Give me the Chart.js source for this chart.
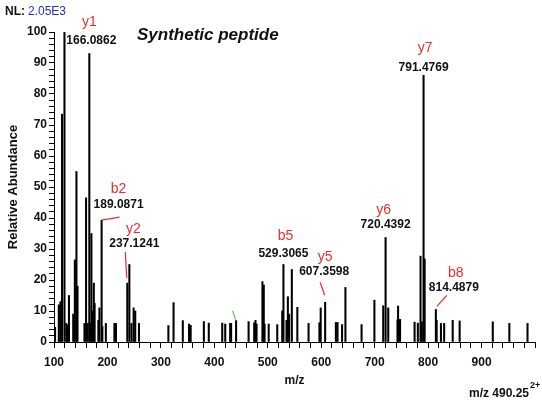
<!DOCTYPE html>
<html>
<head>
<meta charset="utf-8">
<script src="https://cdn.jsdelivr.net/npm/chart.js@4.4.1/dist/chart.umd.min.js"></script>
<style>
  html, body { margin: 0; padding: 0; background: #fff; }
  #wrap { width: 542px; height: 404px; position: relative; }
</style>
</head>
<body>
<div id="wrap"><canvas id="msChart"></canvas></div>
<script>
// centroided MS/MS peaks: m/z and relative abundance (%)
const peakMz = [
    102, 109, 112, 115, 119.6, 123, 125, 128, 136, 139,
    142, 144, 157, 160, 163, 166.0862, 168, 170, 173, 174.5,
    176, 183, 185, 189.0871, 190.5, 197, 213, 216, 237.1241, 241,
    245, 249, 252, 259, 314, 323.7, 341, 352.6, 355.7, 380.4,
    389.6, 414.8, 420.4, 429.6, 431.4, 440.7, 464.1, 474.6, 477, 479,
    490, 492.5, 494, 501.7, 517.7, 527, 529.3065, 535, 537.6, 540,
    545, 555.3, 576.3, 596.6, 599, 607.3598, 627.4, 630.5, 639, 645.3,
    675.5, 699.5, 716, 720.4392, 725.4, 742.7, 743.8, 747.5, 774.7, 780.8,
    785.8, 788.3, 791.4769, 793.5, 814.4879, 816, 824, 830, 846, 859,
    921, 952, 986
];
const peakAbundance = [
    4.8, 12, 13, 73.5, 100, 6, 5.5, 15, 9, 26.5,
    55, 18, 6, 46.5, 6, 93, 6, 35, 10, 19,
    12.5, 7, 11, 39.3, 5, 6, 6, 6, 19, 25,
    6, 11, 10, 6, 5.3, 12.7, 6.9, 5.8, 5.4, 6.6,
    6.1, 6.1, 5.8, 6, 6, 6.9, 6.6, 6.2, 7, 5.8,
    19.5, 18.4, 5.8, 5.8, 5.6, 10, 25, 7, 14.6, 9,
    23.4, 11.2, 6, 6.2, 11, 12.8, 6.3, 6.3, 5.6, 17.6,
    5.6, 13.5, 11.7, 33.7, 11, 7.1, 11.6, 7.3, 6.4, 6.1,
    27.7, 6.5, 86, 26.8, 10.5, 7, 6, 6, 7, 6.8,
    6.5, 6, 6
];

// assigned fragment ions
const ionNames = ['y1', 'b2', 'y2', 'b5', 'y5', 'y6', 'y7', 'b8'];
const ionMz = [166.0862, 189.0871, 237.1241, 529.3065, 607.3598, 720.4392, 791.4769, 814.4879];

const xTickValues = [100, 200, 300, 400, 500, 600, 700, 800, 900];
const yTickValues = [0, 10, 20, 30, 40, 50, 60, 70, 80, 90, 100];

const normLevel = '2.05E3';
const precursorMz = '490.25';
const precursorCharge = '2+';
const sampleTitle = 'Synthetic peptide';

const RED = '#ee2b2b';

// where each ion label sits, relative to the top of its peak (px)
const labelPlacement = {
    y1: { dx: 2, dy: -13, nameDx: 0, nameDy: -32 },
    b2: { dx: 17, dy: -15, nameDx: 17, nameDy: -31, lead: [0, 0, 18, -3] },
    y2: { dx: 7, dy: -39, nameDx: 6, nameDy: -54, lead: [-2, -31, -0.5, -5] },
    b5: { dx: 0, dy: -11, nameDx: 2, nameDy: -28 },
    y5: { dx: -1, dy: -31, nameDx: 0, nameDy: -45, lead: [-5, -20, -0.5, -7] },
    y6: { dx: 0, dy: -13, nameDx: -2, nameDy: -27 },
    y7: { dx: 0, dy: -8, nameDx: 1.5, nameDy: -27 },
    b8: { dx: 18, dy: -22, nameDx: 20, nameDy: -36, lead: [1, -3, 11, -14] }
};

const peakPoints = peakMz.map((mz, i) => ({ x: mz, y: peakAbundance[i] }));

const annotate = {
    id: 'annotate',
    afterDatasetsDraw(chart) {
        const { ctx, scales: { x, y } } = chart;
        ctx.save();
        ctx.textAlign = 'center';
        ctx.textBaseline = 'middle';
        ionNames.forEach((name, i) => {
            const mz = ionMz[i];
            const idx = peakMz.indexOf(mz);
            const px = x.getPixelForValue(mz);
            const py = y.getPixelForValue(peakAbundance[idx]);
            const p = labelPlacement[name];
            if (p.lead) {
                ctx.strokeStyle = RED;
                ctx.lineWidth = 1.2;
                ctx.beginPath();
                ctx.moveTo(px + p.lead[0], py + p.lead[1]);
                ctx.lineTo(px + p.lead[2], py + p.lead[3]);
                ctx.stroke();
            }
            ctx.fillStyle = '#111';
            ctx.font = 'bold 12px "Liberation Sans", Arial, sans-serif';
            ctx.fillText(mz.toFixed(4), px + p.dx, py + p.dy);
            ctx.fillStyle = RED;
            ctx.font = '14px "Liberation Sans", Arial, sans-serif';
            ctx.fillText(name, px + p.nameDx, py + p.nameDy);
        });

        // small green tick on the 440.7 peak
        const gx = x.getPixelForValue(440.7);
        const gy = y.getPixelForValue(peakAbundance[peakMz.indexOf(440.7)]);
        ctx.strokeStyle = '#3cb43c';
        ctx.lineWidth = 1;
        ctx.beginPath();
        ctx.moveTo(gx - 3.5, gy - 10);
        ctx.lineTo(gx - 0.5, gy - 1);
        ctx.stroke();

        // header and footer text
        ctx.textAlign = 'left';
        ctx.fillStyle = '#111';
        ctx.font = 'bold 12px "Liberation Sans", Arial, sans-serif';
        ctx.fillText('NL:', 5, 12);
        ctx.fillStyle = '#2b2bc8';
        ctx.font = '12px "Liberation Sans", Arial, sans-serif';
        ctx.fillText(normLevel, 28, 12);

        ctx.fillStyle = '#111';
        ctx.font = 'italic bold 17px "Liberation Sans", Arial, sans-serif';
        ctx.fillText(sampleTitle, 137, 35);

        ctx.font = 'bold 12px "Liberation Sans", Arial, sans-serif';
        ctx.textAlign = 'right';
        ctx.fillText('m/z ' + precursorMz, 529, 394);
        ctx.textAlign = 'left';
        ctx.font = 'bold 9px "Liberation Sans", Arial, sans-serif';
        ctx.fillText(precursorCharge, 530, 386);
        ctx.restore();
    }
};

const ctx = document.getElementById('msChart');
const msChart = new Chart(ctx, {
    type: 'bar',
    data: {
        datasets: [{
            label: 'MS/MS',
            data: peakPoints,
            backgroundColor: '#000',
            borderWidth: 0,
            barThickness: 1.4
        }]
    },
    plugins: [annotate],
    options: {
        responsive: true,
        maintainAspectRatio: false,
        animation: false,
        layout: { padding: { top: 32, right: 1, bottom: 16, left: 0 } },
        plugins: {
            legend: { display: false },
            tooltip: { enabled: false }
        },
        scales: {
            x: {
                type: 'linear',
                min: 100,
                max: 1000,
                offset: false,
                afterFit(scale) { scale.height = 46; },
                border: { display: true, color: '#000', width: 1 },
                grid: { display: true, offset: false, drawOnChartArea: false, drawTicks: true, tickLength: 6, color: '#000' },
                ticks: {
                    stepSize: 20,
                    autoSkip: false,
                    maxRotation: 0,
                    padding: 7,
                    color: '#111',
                    font: { family: '"Liberation Sans", Arial, sans-serif', size: 12, weight: 'bold' },
                    callback: v => xTickValues.includes(v) ? String(v) : ''
                },
                title: {
                    display: true,
                    text: 'm/z',
                    color: '#111',
                    padding: 0,
                    font: { family: '"Liberation Sans", Arial, sans-serif', size: 12, weight: 'bold' }
                }
            },
            y: {
                min: 0,
                max: 100,
                afterFit(scale) { scale.width = 54; },
                border: { display: true, color: '#000', width: 1 },
                grid: { display: true, drawOnChartArea: false, drawTicks: true, tickLength: 5, color: '#000' },
                ticks: {
                    stepSize: 2,
                    autoSkip: false,
                    padding: 2,
                    color: '#111',
                    font: { family: '"Liberation Sans", Arial, sans-serif', size: 12, weight: 'bold' },
                    callback: v => yTickValues.includes(v) ? String(v) : ''
                },
                title: {
                    display: true,
                    text: 'Relative Abundance',
                    color: '#111',
                    padding: { top: 6, bottom: 0 },
                    font: { family: '"Liberation Sans", Arial, sans-serif', size: 13, weight: 'bold' }
                }
            }
        }
    }
});
</script>
</body>
</html>
